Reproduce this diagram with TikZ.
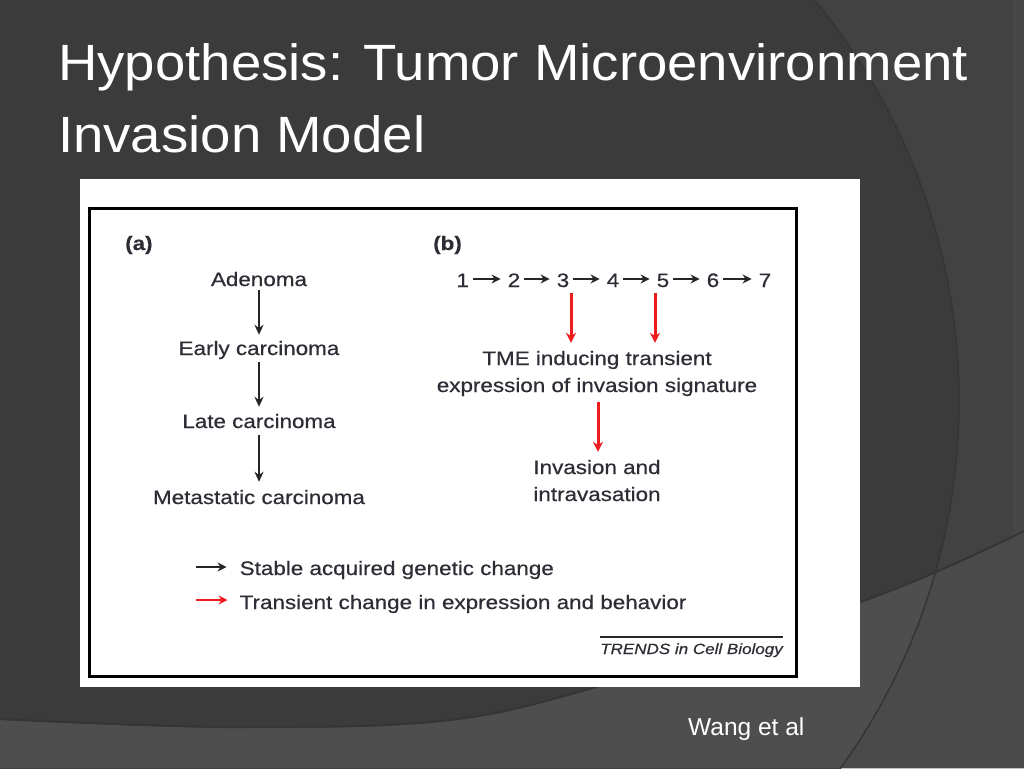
\documentclass[tikz,border=0pt]{standalone}
\usepackage{fontspec}
\setmainfont{Liberation Sans}
\newfontfamily\titlefont[FakeStretch=1.07]{Liberation Sans}
\newfontfamily\figfont[FakeStretch=1.15,FakeBold=0.5]{Liberation Sans}
\usetikzlibrary{arrows.meta}
\definecolor{bgbase}{HTML}{3B3B3B}
\definecolor{bgright}{HTML}{424242}
\definecolor{bglow}{HTML}{4E4E4E}
\definecolor{bglowr}{HTML}{4A4A4A}
\definecolor{bgedge}{HTML}{353535}
\definecolor{bgstrip}{HTML}{474747}
\definecolor{figtext}{HTML}{2D2D35}
\definecolor{figred}{HTML}{EE1C1C}
\begin{document}
\begin{tikzpicture}[x=1pt,y=-1pt,
  title/.style={text=white, font=\titlefont\fontsize{51}{60}\selectfont, anchor=base west, inner sep=0pt},
  fig/.style={text=figtext, font=\figfont\fontsize{19.5}{24}\selectfont, inner sep=0pt, text height=14pt, text depth=4pt},
  vblack/.style={draw=black!85, line width=2.8pt, -{Stealth[length=10pt,width=9pt]}},
  vred/.style={draw=figred, line width=3pt, -{Stealth[length=10pt,width=10pt]}},
  hblack/.style={draw=black!85, line width=2.6pt, -{Stealth[length=9pt,width=9pt]}},
  hred/.style={draw=figred, line width=2.8pt, -{Stealth[length=9pt,width=9pt]}},
]
\useasboundingbox (0,0) rectangle (1024,768);
% background
\fill[bgbase] (0,0) rectangle (1024,768);
\begin{scope}
  \clip (0,0) rectangle (1024,768);
  \fill[bgright, even odd rule] (0,0) rectangle (1024,768) (331,401) circle (628pt);
  \fill[bgstrip] (1013,0) rectangle (1024,535);
  \fill[bglow] plot[smooth] coordinates {(0,720) (250,728) (500,713) (860,603) (1024,532)} -- (1024,768) -- (0,768) -- cycle;
  \begin{scope}
    \clip plot[smooth] coordinates {(0,720) (250,728) (500,713) (860,603) (1024,532)} -- (1024,768) -- (0,768) -- cycle;
    \fill[bglowr, even odd rule] (0,0) rectangle (1024,768) (331,401) circle (628pt);
  \end{scope}
  \draw[bgedge, line width=1.5pt] (331,401) circle (628pt);
  \draw[bgedge, line width=2pt] plot[smooth] coordinates {(0,719) (250,727) (500,712) (860,602) (1024,531)};
\end{scope}
% title
\node[title] (t1) at (58,80) {Hypothesis: Tumor Microenvironment};
\node[title] (t2) at (58,152) {Invasion Model};
\node[text=white, font=\fontsize{24.5}{30}\selectfont, anchor=base west, inner sep=0pt] (wang) at (688,735) {Wang et al};
% figure
\fill[white] (80,179) rectangle (860,687);
\draw[black, line width=3pt] (89.5,208.5) rectangle (796,676.5);
\node[fig, anchor=base west] (pa) at (125,250) {\bfseries (a)};
\node[fig, anchor=base west] (pb) at (433,250) {\bfseries (b)};
% (a)
\node[fig, anchor=base] (ade) at (259,286) {Adenoma};
\node[fig, anchor=base] (early) at (259,355) {Early carcinoma};
\node[fig, anchor=base] (late) at (259,428) {Late carcinoma};
\node[fig, anchor=base] (meta) at (259,504) {Metastatic carcinoma};
\draw[vblack, shorten >=6pt] (ade.south) -- (ade.south |- early.north);
\draw[vblack, shorten <=3pt, shorten >=7pt] (early.south) -- (early.south |- late.north);
\draw[vblack, shorten <=3pt, shorten >=8pt] (late.south) -- (late.south |- meta.north);
% (b)
\foreach \i/\x in {1/462.7,2/514,3/563,4/613,5/663,6/713,7/765}
  \node[fig, anchor=base] (n\i) at (\x,287) {\i};
\foreach \i/\j in {1/2,2/3,3/4,4/5,5/6,6/7}
  \draw[hblack, shorten <=4pt, shorten >=7pt] ([yshift=3pt]n\i.east) -- ([yshift=3pt]n\j.west);
\node[fig, anchor=base] (tme1) at (597,365) {TME inducing transient};
\node[fig, anchor=base] (tme2) at (597,392) {expression of invasion signature};
\node[fig, anchor=base] (inv1) at (597,474) {Invasion and};
\node[fig, anchor=base] (inv2) at (597,501) {intravasation};
\draw[vred, shorten <=2pt, shorten >=8pt] ([xshift=8pt]n3.south) -- ([xshift=8pt]n3.south |- tme1.north);
\draw[vred, shorten <=2pt, shorten >=8pt] ([xshift=-8pt]n5.south) -- ([xshift=-8pt]n5.south |- tme1.north);
\draw[vred, shorten <=6pt, shorten >=8pt] ([xshift=1pt]tme2.south) -- ([xshift=1pt]tme2.south |- inv1.north);
% legend
\node[fig, anchor=base west] (leg1) at (239.5,575) {Stable acquired genetic change};
\node[fig, anchor=base west] (leg2) at (239.5,609) {Transient change in expression and behavior};
\coordinate (k1) at (196,567);
\coordinate (k2) at (196,600);
\draw[hblack, shorten >=13pt] (k1) -- (k1 -| leg1.west);
\draw[hred, shorten >=12pt] (k2) -- (k2 -| leg2.west);
\node[fig, font=\figfont\itshape\fontsize{14.8}{18}\selectfont, text height=11pt, text depth=3pt, anchor=base east] (trends) at (783,654) {TRENDS in Cell Biology};
\draw[black!85, line width=2.5pt] ([yshift=6pt]trends.north west) -- ([yshift=6pt]trends.north east);
\end{tikzpicture}
\end{document}
